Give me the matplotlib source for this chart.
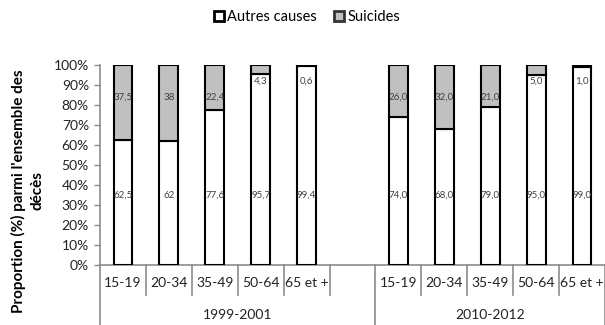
import numpy as np
import matplotlib.pyplot as plt
from matplotlib.transforms import blended_transform_factory
from matplotlib.patches import Patch

plt.rcParams['font.family'] = ['Lato', 'DejaVu Sans']

# Données : part des suicides dans l'ensemble des décès, par âge et période
age_groups = ["15-19", "20-34", "35-49", "50-64", "65 et +"]
periods = ["1999-2001", "2010-2012"]
autres_1999 = [62.5, 62, 77.6, 95.7, 99.4]
suicides_1999 = [37.5, 38, 22.4, 4.3, 0.6]
autres_2010 = [74.0, 68.0, 79.0, 95.0, 99.0]
suicides_2010 = [26.0, 32.0, 21.0, 5.0, 1.0]
labels_1999_autres = ["62,5", "62", "77,6", "95,7", "99,4"]
labels_1999_suic = ["37,5", "38", "22,4", "4,3", "0,6"]
labels_2010_autres = ["74,0", "68,0", "79,0", "95,0", "99,0"]
labels_2010_suic = ["26,0", "32,0", "21,0", "5,0", "1,0"]

GRAY = "#c0c0c0"
AXIS_GRAY = "#8c8c8c"
TEXT = "#404040"

fig = plt.figure(figsize=(6.05, 3.25), dpi=100)
ax = fig.add_axes([100 / 605, 60 / 325, 505 / 605, 200 / 325])

n = len(age_groups)
x1 = np.arange(n)
x2 = np.arange(n) + n + 1
width = 0.41

series = [
    (x1, autres_1999, suicides_1999, labels_1999_autres, labels_1999_suic),
    (x2, autres_2010, suicides_2010, labels_2010_autres, labels_2010_suic),
]
for xs, autres, suic, lab_a, lab_s in series:
    ax.bar(xs, autres, width, color="white", edgecolor="black", linewidth=1.5, zorder=3)
    ax.bar(xs, suic, width, bottom=autres, color=GRAY, edgecolor="black",
           linewidth=1.5, zorder=3)
    for x, a, s, la, ls in zip(xs, autres, suic, lab_a, lab_s):
        ax.text(x, 35, la, ha="center", va="center", fontsize=7, color=TEXT, zorder=4)
        ys = 84 if s > 10 else 92
        ax.text(x, ys, ls, ha="center", va="center", fontsize=7, color=TEXT, zorder=4)

ax.set_xlim(-0.5, 2 * n + 0.5)
ax.set_ylim(0, 100)
ax.set_yticks(np.arange(0, 101, 10))
ax.set_yticklabels([f"{v}%" for v in range(0, 101, 10)], fontsize=10, color="#222222")
ax.tick_params(axis="y", length=4, width=1, color=AXIS_GRAY, pad=4)
ax.set_xticks([])
for side in ["top", "right"]:
    ax.spines[side].set_visible(False)
for side in ["left", "bottom"]:
    ax.spines[side].set_color(AXIS_GRAY)
    ax.spines[side].set_linewidth(1.2)

# Étiquettes de catégories sur deux niveaux
trans = blended_transform_factory(ax.transData, ax.transAxes)
for xs in (x1, x2):
    for x, name in zip(xs, age_groups):
        ax.text(x, -0.09, name, transform=trans, ha="center", va="center",
                fontsize=10, color="#222222", clip_on=False)
group_bounds = [(-0.5, n + 0.5), (n + 0.5, 2 * n + 0.5)]
for (lo, hi), name in zip(group_bounds, periods):
    ax.text((lo + hi) / 2, -0.25, name, transform=trans, ha="center", va="center",
            fontsize=10, color="#222222", clip_on=False)
for b in np.arange(-0.5, 2 * n + 1, 1.0):
    long_line = b in (-0.5, n + 0.5, 2 * n + 0.5)
    ax.plot([b, b], [0, -0.3 if long_line else -0.15], transform=trans,
            color=AXIS_GRAY, linewidth=1.2, clip_on=False)

fig.text(18 / 605, 1 - 191 / 325, "Proportion (%) parmi l'ensemble des",
         rotation=90, ha="center", va="center", fontsize=11, fontweight="bold")
fig.text(37 / 605, 1 - 191 / 325, "décès",
         rotation=90, ha="center", va="center", fontsize=11, fontweight="bold")

handles = [Patch(facecolor="white", edgecolor="black", linewidth=2),
           Patch(facecolor=GRAY, edgecolor="#333333", linewidth=2)]
fig.legend(handles, ["Autres causes", "Suicides"], loc="center",
           bbox_to_anchor=(307 / 605, 1 - 17 / 325), ncol=2, frameon=False,
           fontsize=10.5, handlelength=0.7, handleheight=0.7, handletextpad=0.2,
           columnspacing=1.2)

fig.savefig("out.png", dpi=100)
